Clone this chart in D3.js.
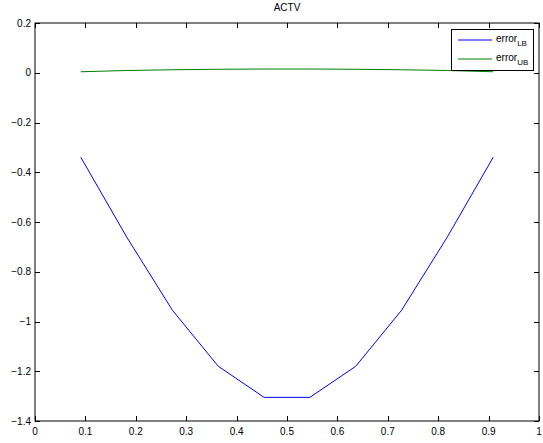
<!DOCTYPE html>
<html><head><meta charset="utf-8">
<script src="https://cdn.jsdelivr.net/npm/d3@7"></script>
<style>body{margin:0;background:#fff}text{font-family:"Liberation Sans",Arial,sans-serif}</style>
</head><body><svg id="c" width="543" height="443"></svg>
<script>
const xValues = [1/11, 2/11, 3/11, 4/11, 5/11, 6/11, 7/11, 8/11, 9/11, 10/11];
const errorLB = [-0.34, -0.66, -0.955, -1.18, -1.305, -1.305, -1.18, -0.955, -0.66, -0.34];
const errorUB = [0.004, 0.009, 0.012, 0.014, 0.015, 0.015, 0.014, 0.012, 0.009, 0.004];
const xTicks = [0, 0.1, 0.2, 0.3, 0.4, 0.5, 0.6, 0.7, 0.8, 0.9, 1];
const yTicks = [0.2, 0, -0.2, -0.4, -0.6, -0.8, -1, -1.2, -1.4];
const seriesNames = ["LB", "UB"];
const colors = ["#0000ff", "#007f00"];

const svg = d3.select("#c");
const L = 35, R = 539, T = 23, B = 421;
const x = d3.scaleLinear().domain([0, 1]).range([L, R]);
const y = d3.scaleLinear().domain([-1.4, 0.2]).range([B, T]);
const fmt = d => d === 0 ? "0" : (d < 0 ? "\u2212" + d3.format("")(Math.abs(d)) : d3.format("")(d));

// box
svg.append("rect").attr("x", L).attr("y", T).attr("width", R - L).attr("height", B - T)
  .attr("fill", "none").attr("stroke", "#000").attr("stroke-width", 1);

const ax = svg.append("g").attr("font-size", 10).attr("fill", "#000");
xTicks.forEach(t => {
  const px = Math.round(x(t)) + 0.5;
  ax.append("line").attr("x1", px).attr("x2", px).attr("y1", B).attr("y2", B - 5).attr("stroke", "#000");
  ax.append("line").attr("x1", px).attr("x2", px).attr("y1", T).attr("y2", T + 5).attr("stroke", "#000");
  ax.append("text").attr("x", x(t)).attr("y", B + 14).attr("text-anchor", "middle").text(fmt(t));
});
yTicks.forEach(t => {
  const py = Math.round(y(t)) + 0.5;
  ax.append("line").attr("x1", L).attr("x2", L + 5).attr("y1", py).attr("y2", py).attr("stroke", "#000");
  ax.append("line").attr("x1", R).attr("x2", R - 5).attr("y1", py).attr("y2", py).attr("stroke", "#000");
  ax.append("text").attr("x", L - 4).attr("y", y(t) + 3.5).attr("text-anchor", "end").text(fmt(t));
});

// title
svg.append("text").attr("x", (L + R) / 2).attr("y", 11).attr("text-anchor", "middle")
  .attr("font-size", 10).text("ACTV");

const line = d3.line().x((d, i) => x(xValues[i])).y(d => y(d));
[errorLB, errorUB].forEach((s, k) => {
  svg.append("path").datum(s).attr("d", line).attr("fill", "none")
    .attr("stroke", colors[k]).attr("stroke-width", 1);
});

// legend
const lg = svg.append("g");
lg.append("rect").attr("x", 451.5).attr("y", 29.5).attr("width", 82).attr("height", 41)
  .attr("fill", "#fff").attr("stroke", "#000");
seriesNames.forEach((n, k) => {
  const yy = 40 + k * 19;
  lg.append("line").attr("x1", 458).attr("x2", 492).attr("y1", yy).attr("y2", yy).attr("stroke", colors[k]);
  const t = lg.append("text").attr("x", 496).attr("y", yy + 2).attr("font-size", 10);
  t.append("tspan").text("error");
  t.append("tspan").attr("dy", 4).attr("font-size", 8).text(n);
});
</script></body></html>
